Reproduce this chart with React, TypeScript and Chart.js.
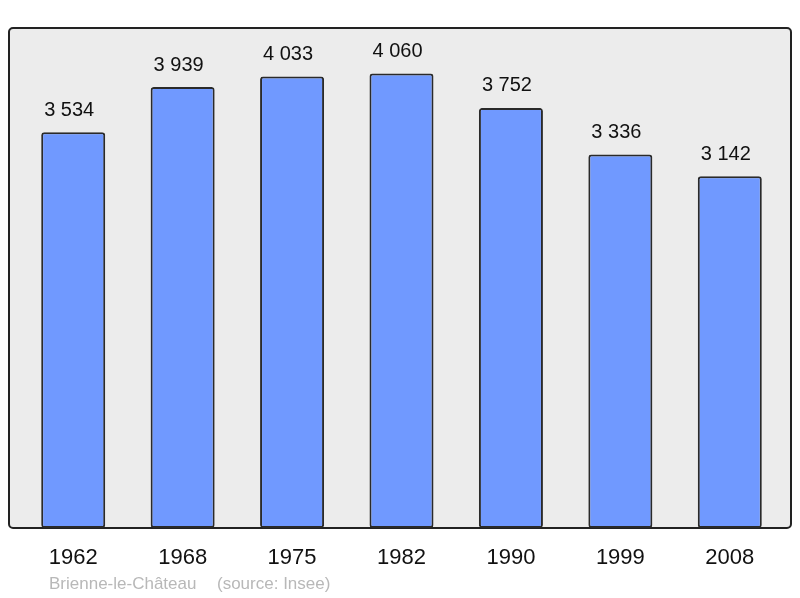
import React, { useEffect, useRef } from "react";
import { Chart, registerables } from "chart.js";

Chart.register(...registerables);

const years = ["1962", "1968", "1975", "1982", "1990", "1999", "2008"];
const population = [3534, 3939, 4033, 4060, 3752, 3336, 3142];
const townName = "Brienne-le-Château";
const sourceText = "(source: Insee)";

const fmt = (v: number) => String(v).replace(/\B(?=(\d{3})+(?!\d))/g, " ");

const framePlugin = {
  id: "frame",
  beforeDraw(chart: any) {
    const { ctx, chartArea } = chart;
    const l = chartArea.left - 9.5;
    const r = chartArea.right + 6.5;
    const t = chartArea.top;
    const b = chartArea.bottom;
    ctx.save();
    ctx.beginPath();
    ctx.roundRect(l, t, r - l, b - t, 4);
    ctx.fillStyle = "#ececec";
    ctx.fill();
    ctx.lineWidth = 2;
    ctx.strokeStyle = "#222222";
    ctx.stroke();
    ctx.restore();
  },
  afterDatasetsDraw(chart: any) {
    const { ctx } = chart;
    const meta = chart.getDatasetMeta(0);
    ctx.save();
    ctx.fillStyle = "#111111";
    ctx.font = '20px "Liberation Sans", Arial, sans-serif';
    ctx.textAlign = "center";
    ctx.textBaseline = "middle";
    meta.data.forEach((bar: any, i: number) => {
      ctx.fillText(fmt(population[i]), bar.x - 4, bar.y - 22);
    });
    ctx.restore();
  },
  afterDraw(chart: any) {
    const { ctx, chartArea } = chart;
    ctx.save();
    ctx.fillStyle = "#b8b8b8";
    ctx.font = '17px "Liberation Sans", Arial, sans-serif';
    ctx.textAlign = "left";
    ctx.textBaseline = "alphabetic";
    ctx.fillText(townName, chartArea.left + 30.5, 589);
    ctx.fillText(sourceText, chartArea.left + 198.5, 589);
    ctx.restore();
  },
};

export default function App() {
  const ref = useRef<HTMLCanvasElement | null>(null);
  useEffect(() => {
    if (!ref.current) return;
    const chart = new Chart(ref.current, {
      type: "bar",
      data: {
        labels: years,
        datasets: [
          {
            data: population,
            backgroundColor: "#7099ff",
            borderColor: "#2a2a2a",
            borderWidth: 2,
            borderRadius: 3,
            borderSkipped: false,
            barPercentage: 0.585,
            categoryPercentage: 1,
          },
        ],
      },
      options: {
        responsive: false,
        animation: false,
        layout: { padding: { left: 18.5, right: 15.5, top: 28, bottom: 9.6 } },
        plugins: {
          legend: { display: false },
          tooltip: { enabled: false },
          title: { display: false },
        },
        scales: {
          y: { display: false, min: 0, max: 4466 },
          x: {
            grid: { display: false, drawTicks: false },
            border: { display: false },
            ticks: {
              padding: 17,
              color: "#111111",
              font: { family: '"Liberation Sans", Arial, sans-serif', size: 22 },
            },
          },
        },
      },
      plugins: [framePlugin],
    });
    return () => chart.destroy();
  }, []);
  return (
    <div style={{ position: "fixed", left: 0, top: 0, width: 800, height: 598, background: "#ffffff" }}>
      <canvas ref={ref} width={800} height={598} />
    </div>
  );
}
